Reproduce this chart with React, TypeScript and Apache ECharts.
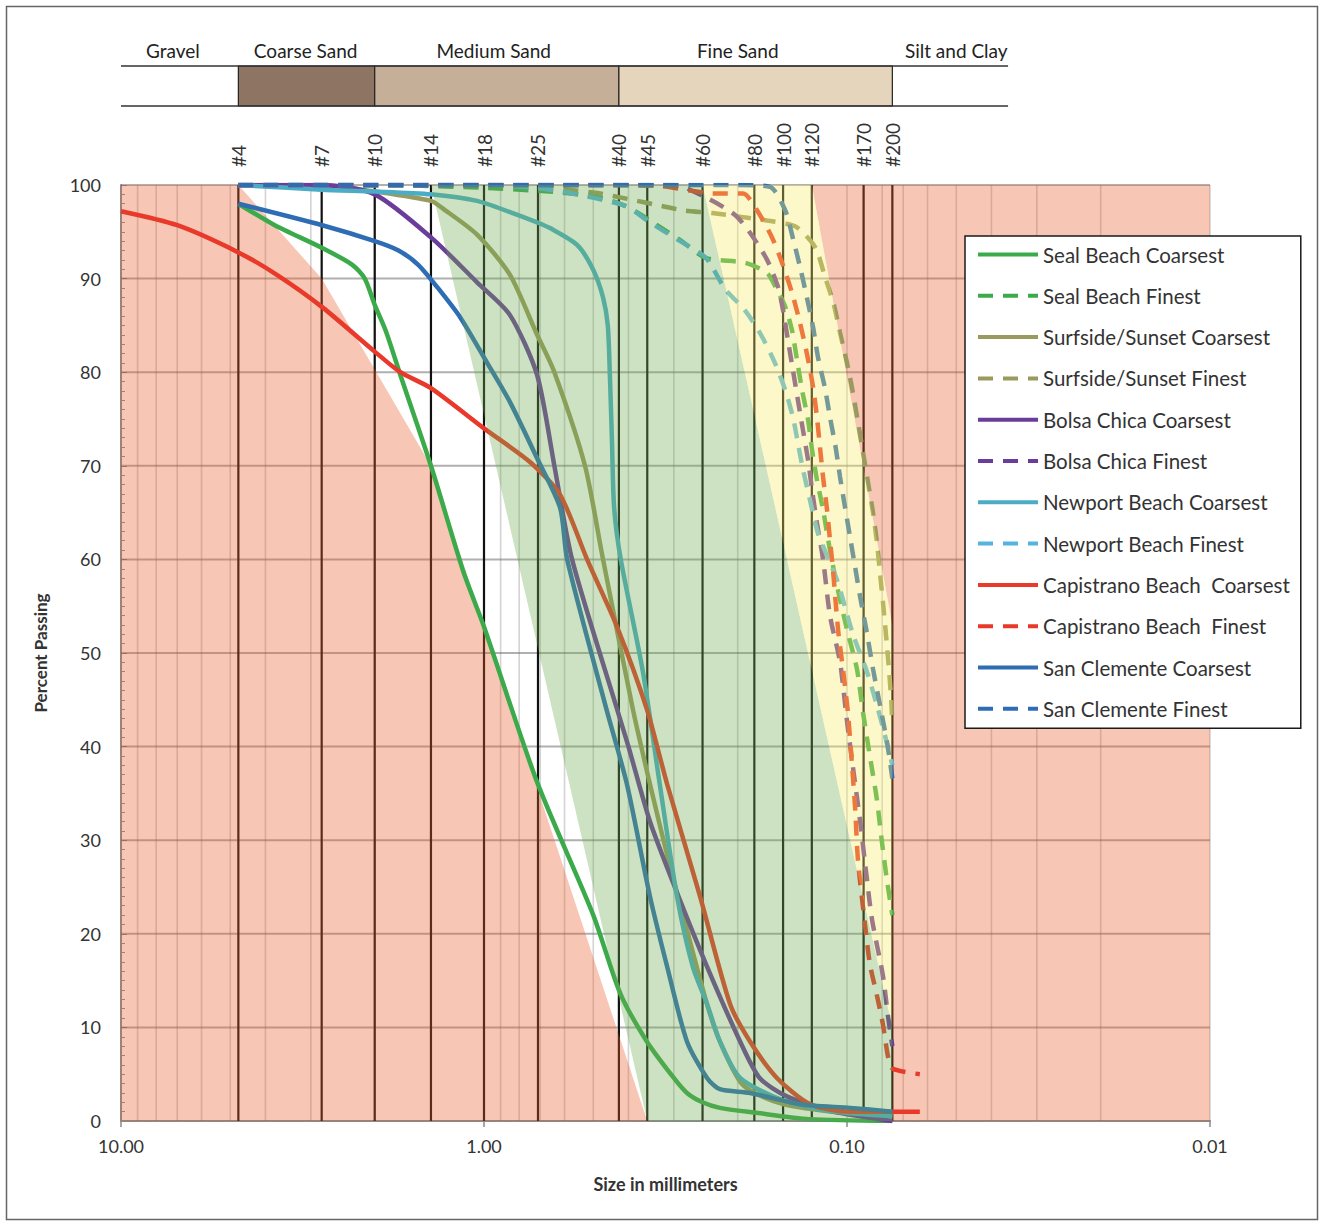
import React, { useEffect, useRef } from 'react';
import * as echarts from 'echarts';

const FONT = "Lato, 'Open Sans', sans-serif";

// ---- axis / reference data ----
const SIEVE_LABELS = ['#4', '#7', '#10', '#14', '#18', '#25', '#40', '#45', '#60', '#80', '#100', '#120', '#170', '#200'];
const SIEVE_SIZES = [4.75, 2.8, 2.0, 1.4, 1.0, 0.71, 0.425, 0.355, 0.25, 0.18, 0.15, 0.125, 0.09, 0.075];
const MINOR_GRID_SIZES = [9, 8, 7, 6, 5, 4, 3, 2, 1, 0.9, 0.8, 0.7, 0.6, 0.5, 0.4, 0.3, 0.2, 0.1, 0.09, 0.08, 0.07, 0.06, 0.05, 0.04, 0.03, 0.02, 0.01];
const Y_GRID = [10, 20, 30, 40, 50, 60, 70, 80, 90, 100];

const BAND_NAMES = ['Gravel', 'Coarse Sand', 'Medium Sand', 'Fine Sand', 'Silt and Clay'];
const BAND_EDGES = [10, 4.75, 2.0, 0.425, 0.075, 0.036];
const BAND_LABEL_AT = [7.2, 3.1, 0.94, 0.2, 0.05];

// envelope zones [size mm, percent]
const SALMON_LEFT = [[10, 100], [4.75, 100], [2.8, 90], [1.4, 70], [0.355, 0], [10, 0]];
const SALMON_RIGHT = [[0.125, 100], [0.01, 100], [0.01, 0], [0.075, 0], [0.075, 53]];
const GREEN_ZONE = [[1.4, 100], [0.25, 100], [0.075, 10], [0.075, 0], [0.355, 0]];
const YELLOW_ZONE = [[0.25, 100], [0.125, 100], [0.075, 53], [0.075, 10]];

// ---- gradation curves [size mm, percent passing] ----
const SEAL_COARSE = [[4.75, 98], [3.77, 95.7], [2.8, 93.3], [2.31, 91.5], [2.13, 90], [2.0, 87.2], [1.86, 84.3], [1.7, 79.7], [1.4, 70], [1.14, 58.7], [1.0, 52.8], [0.714, 36.2], [0.5, 22], [0.422, 13.7], [0.356, 8.5], [0.3, 4.6], [0.276, 3.0], [0.25, 2.0], [0.224, 1.4], [0.18, 0.9], [0.127, 0.2], [0.075, 0]];
const SEAL_FINE = [[4.75, 100], [2.0, 100], [1.0, 99.7], [0.66, 99.3], [0.5, 98.8], [0.41, 97.8], [0.349, 96.2], [0.288, 94.1], [0.2445, 92.2], [0.191, 91.7], [0.166, 90.6], [0.156, 88.8], [0.148, 87], [0.1418, 84.5], [0.1373, 81.3], [0.133, 78.1], [0.128, 74.9], [0.1248, 71.7], [0.121, 68.5], [0.1164, 65.3], [0.112, 61.5], [0.107, 57.5], [0.1, 52.5], [0.0939, 48.3], [0.0903, 43.6], [0.0865, 39], [0.0827, 34.3], [0.08, 29.6], [0.0776, 25.7], [0.075, 22]];
const SURF_COARSE = [[4.75, 100], [2.8, 100], [2.0, 99.3], [1.4, 98.3], [1.3, 97.5], [1.045, 94.7], [0.848, 90.4], [0.714, 84], [0.64, 80], [0.527, 70], [0.47, 60], [0.389, 44], [0.349, 36], [0.311, 28], [0.276, 20.4], [0.243, 12.5], [0.224, 8.5], [0.193, 3.8], [0.15, 1.8], [0.1, 0.8], [0.075, 0.5]];
const SURF_FINE = [[4.75, 100], [0.9, 100], [0.5, 99.2], [0.389, 98.4], [0.338, 97.9], [0.283, 97.3], [0.2354, 97], [0.166, 96.2], [0.139, 95.6], [0.1264, 94.1], [0.121, 93], [0.115, 90.2], [0.109, 87.4], [0.1045, 84.2], [0.1, 81], [0.0963, 77.8], [0.0932, 74.6], [0.0903, 71.4], [0.0875, 68.2], [0.0848, 65], [0.0827, 61.8], [0.0811, 58.5], [0.0795, 55.2], [0.0771, 49.5], [0.0756, 45.2], [0.075, 42.4]];
const BOLSA_COARSE = [[4.75, 100], [2.8, 100], [2.0, 99], [1.39, 94.3], [1.045, 89.6], [0.848, 86.1], [0.714, 79.7], [0.64, 70], [0.572, 60], [0.43, 44], [0.4, 40], [0.349, 32], [0.294, 24.4], [0.243, 16.5], [0.197, 8.5], [0.174, 4.6], [0.146, 2.6], [0.109, 1.0], [0.075, 0]];
const BOLSA_FINE = [[4.75, 100], [0.3, 100], [0.243, 98.6], [0.2035, 96.8], [0.185, 94.9], [0.166, 92], [0.1549, 89.1], [0.15, 86.6], [0.1454, 83.4], [0.1409, 80.2], [0.1365, 77], [0.1322, 73.8], [0.128, 70.6], [0.1248, 67.4], [0.121, 63.9], [0.1164, 60], [0.1114, 54], [0.1045, 49], [0.1, 42.7], [0.0963, 37.8], [0.092, 32], [0.0881, 25.8], [0.0853, 21.5], [0.0796, 15.5], [0.0771, 11.2], [0.075, 8]];
const NEWPORT_COARSE = [[4.75, 100], [2.8, 99.5], [2.0, 99.3], [1.4, 99], [1.045, 98.3], [0.848, 97.1], [0.714, 96], [0.658, 95.4], [0.554, 93.6], [0.501, 91], [0.47, 88], [0.456, 85], [0.45, 79.7], [0.444, 72.5], [0.438, 65.5], [0.42, 60], [0.365, 48], [0.328, 36], [0.294, 24], [0.266, 16.5], [0.243, 12.5], [0.224, 8.5], [0.197, 4.6], [0.15, 2.2], [0.109, 1.0], [0.075, 0.5]];
const NEWPORT_FINE = [[4.75, 100], [1.0, 100], [0.66, 99.5], [0.41, 97.8], [0.349, 96], [0.288, 94], [0.2445, 92.2], [0.2168, 88.9], [0.191, 86.6], [0.1726, 84], [0.158, 81], [0.148, 78.1], [0.1409, 75.2], [0.1365, 72.4], [0.1322, 69.6], [0.1264, 66.3], [0.1202, 62.8], [0.107, 58], [0.1026, 55.7], [0.0963, 52], [0.0881, 48], [0.0827, 44.4], [0.0786, 41.2], [0.075, 38]];
const CAP_COARSE = [[10, 97.2], [7.0, 95.7], [4.75, 92.8], [3.72, 90.4], [2.78, 86.9], [2.0, 82.2], [1.7, 80], [1.4, 78.3], [1.0, 74], [0.747, 70.4], [0.617, 66.9], [0.52, 60], [0.43, 52.8], [0.356, 44], [0.313, 36], [0.254, 24], [0.21, 12.5], [0.185, 8.5], [0.156, 4.6], [0.1265, 1.8], [0.098, 1.0], [0.075, 1.0], [0.063, 1.0]];
const CAP_FINE = [[4.75, 100], [0.479, 100], [0.3275, 99.9], [0.2706, 99.4], [0.2354, 99.1], [0.1934, 99.1], [0.177, 97.3], [0.1609, 94.4], [0.151, 91.7], [0.1418, 88.5], [0.1348, 85.3], [0.129, 82], [0.124, 78.4], [0.121, 75.2], [0.1187, 72], [0.1164, 68.8], [0.1135, 65.3], [0.1114, 62.1], [0.1093, 58.9], [0.1075, 55.5], [0.1055, 52], [0.1026, 48.3], [0.0994, 43.6], [0.0969, 38.1], [0.095, 33.5], [0.0932, 27.7], [0.0892, 21], [0.0865, 16.8], [0.0827, 13.4], [0.0796, 10.3], [0.0771, 6.9], [0.075, 5.6], [0.063, 5]];
const SANC_COARSE = [[4.75, 98], [2.79, 95.7], [2.0, 94], [1.72, 93], [1.52, 91.5], [1.34, 89], [1.16, 85.8], [0.98, 81], [0.848, 76.8], [0.714, 70.8], [0.617, 65.5], [0.59, 60], [0.46, 44], [0.404, 36], [0.349, 24], [0.313, 16.5], [0.276, 8.5], [0.243, 4.6], [0.224, 3.4], [0.185, 3.0], [0.135, 1.8], [0.098, 1.4], [0.075, 1.0]];
const SANC_FINE = [[4.75, 100], [0.2, 100], [0.163, 99.8], [0.148, 97.3], [0.1409, 94.3], [0.1348, 91.3], [0.129, 88], [0.124, 84.8], [0.1202, 81.6], [0.115, 78.3], [0.1114, 75.2], [0.1075, 72], [0.1045, 68.8], [0.1013, 65.6], [0.0981, 62.4], [0.095, 59.2], [0.092, 56], [0.0881, 52.1], [0.0848, 48.3], [0.0811, 44.4], [0.0776, 40.5], [0.075, 36.6]];

const SERIES_DEF = [
  { name: 'Seal Beach Coarsest', data: SEAL_COARSE, color: '#3BAA4A', dashed: false },
  { name: 'Seal Beach Finest', data: SEAL_FINE, color: '#3BAA4A', dashed: true },
  { name: 'Surfside/Sunset Coarsest', data: SURF_COARSE, color: '#9A9A5E', dashed: false },
  { name: 'Surfside/Sunset Finest', data: SURF_FINE, color: '#9A9A5E', dashed: true },
  { name: 'Bolsa Chica Coarsest', data: BOLSA_COARSE, color: '#6A3D9A', dashed: false },
  { name: 'Bolsa Chica Finest', data: BOLSA_FINE, color: '#6A3D9A', dashed: true },
  { name: 'Newport Beach Coarsest', data: NEWPORT_COARSE, color: '#4BACC6', dashed: false },
  { name: 'Newport Beach Finest', data: NEWPORT_FINE, color: '#55B4DE', dashed: true },
  { name: 'Capistrano Beach  Coarsest', data: CAP_COARSE, color: '#E8392A', dashed: false },
  { name: 'Capistrano Beach  Finest', data: CAP_FINE, color: '#E8392A', dashed: true },
  { name: 'San Clemente Coarsest', data: SANC_COARSE, color: '#2E6DB4', dashed: false },
  { name: 'San Clemente Finest', data: SANC_FINE, color: '#2E6DB4', dashed: true },
];

function zoneSeries(pts: number[][], fill: string, z: number) {
  return {
    type: 'custom',
    coordinateSystem: 'cartesian2d',
    z,
    silent: true,
    clip: true,
    data: [[1, 50]],
    renderItem: (_p: any, api: any) => ({
      type: 'polygon',
      shape: { points: pts.map((p) => api.coord(p)) },
      style: { fill },
    }),
  };
}

export default function App() {
  const ref = useRef<HTMLDivElement>(null);

  useEffect(() => {
    if (!ref.current) return;
    const chart = echarts.init(ref.current, null, { renderer: 'svg' });

    const lineSeries = SERIES_DEF.map((s) => ({
      name: s.name,
      type: 'line',
      data: s.data,
      z: 5,
      smooth: 0.25,
      symbol: 'none',
      showSymbol: false,
      silent: true,
      color: s.color,
      lineStyle: { color: s.color, width: 4.5, type: s.dashed ? [15, 10] : 'solid' },
      emphasis: { disabled: true },
    }));

    const option: any = {
      animation: false,
      grid: { left: 121, top: 185, width: 1089, height: 936, show: true, backgroundColor: '#ffffff', borderWidth: 0, outerBoundsMode: 'none' },
      xAxis: {
        type: 'log',
        logBase: 10,
        min: 0.01,
        max: 10,
        splitNumber: 3,
        inverse: true,
        axisLine: { show: true, lineStyle: { color: '#8a8a8a', width: 2 } },
        axisTick: { show: true, length: 6, lineStyle: { color: '#8a8a8a', width: 1.5 } },
        axisLabel: { formatter: (v: number) => Number(v).toFixed(2), fontSize: 18, color: '#333', margin: 16, fontFamily: FONT },
        splitLine: { show: false },
        name: 'Size in millimeters',
        nameLocation: 'middle',
        nameGap: 54,
        nameTextStyle: { fontSize: 18, fontWeight: 'bold', color: '#333', fontFamily: FONT },
      },
      yAxis: {
        type: 'value',
        min: 0,
        max: 100,
        interval: 10,
        axisLine: { show: true, lineStyle: { color: '#8a8a8a', width: 2 } },
        axisTick: { show: true, inside: true, length: 6, lineStyle: { color: '#8a8a8a' } },
        minorTick: { show: true, splitNumber: 10, length: 4, lineStyle: { color: '#9a8a86', width: 1 } },
        axisLabel: { fontSize: 18, color: '#333', margin: 20, fontFamily: FONT },
        splitLine: { show: false },
        name: 'Percent Passing',
        nameLocation: 'middle',
        nameGap: 72,
        nameRotate: 90,
        nameTextStyle: { fontSize: 17, fontWeight: 'bold', color: '#333', fontFamily: FONT },
      },
      legend: {
        orient: 'vertical',
        left: 965,
        top: 236,
        z: 10,
        itemWidth: 60,
        itemHeight: 22,
        itemGap: 20.3,
        padding: [8, 11, 9, 11],
        backgroundColor: '#ffffff',
        borderColor: '#1a1a1a',
        borderWidth: 1.5,
        borderRadius: 0,
        selectedMode: false,
        itemStyle: { opacity: 0, borderWidth: 0 },
        lineStyle: { width: 4 },
        textStyle: { fontSize: 20.5, color: '#333', fontFamily: FONT },
        data: SERIES_DEF.map((s) => s.name),
      },
      series: [
        {
          type: 'custom',
          z: 2,
          silent: true,
          data: MINOR_GRID_SIZES.map((s) => [s, 0]),
          renderItem: (_p: any, api: any) => {
            const s = api.value(0);
            const a = api.coord([s, 0]);
            const b = api.coord([s, 100]);
            return { type: 'line', shape: { x1: a[0], y1: a[1], x2: b[0], y2: b[1] }, style: { stroke: 'rgba(110,110,110,0.3)', lineWidth: 1.6 } };
          },
        },
        {
          type: 'custom',
          z: 2,
          silent: true,
          data: Y_GRID.map((y) => [1, y]),
          renderItem: (_p: any, api: any) => {
            const y = api.value(1);
            const a = api.coord([10, y]);
            const b = api.coord([0.01, y]);
            return { type: 'line', shape: { x1: a[0], y1: a[1], x2: b[0], y2: b[1] }, style: { stroke: 'rgba(100,95,95,0.5)', lineWidth: 2 } };
          },
        },
        {
          type: 'custom',
          z: 3,
          silent: true,
          data: SIEVE_SIZES.map((s) => [s, 0]),
          renderItem: (_p: any, api: any) => {
            const s = api.value(0);
            const a = api.coord([s, 0]);
            const b = api.coord([s, 100]);
            return { type: 'line', shape: { x1: a[0], y1: a[1], x2: b[0], y2: b[1] }, style: { stroke: '#111', lineWidth: 2.2 } };
          },
        },
        zoneSeries(SALMON_LEFT, 'rgba(232,92,42,0.35)', 4),
        zoneSeries(SALMON_RIGHT, 'rgba(232,92,42,0.35)', 4),
        ...lineSeries,
        zoneSeries(GREEN_ZONE, 'rgba(110,172,80,0.35)', 6),
        zoneSeries(YELLOW_ZONE, 'rgba(250,236,100,0.35)', 6),
      ],
    };

    chart.setOption(option);

    const px = (v: number) => chart.convertToPixel({ xAxisIndex: 0 }, v) as number;
    const graphic: any[] = [];
    graphic.push({ type: 'rect', shape: { x: 6.5, y: 6.5, width: 1311, height: 1213 }, style: { fill: 'none', stroke: '#666', lineWidth: 1.5 }, silent: true });

    const bx0 = px(BAND_EDGES[0]);
    const bx1 = px(BAND_EDGES[BAND_EDGES.length - 1]);
    const bandFills = ['none', '#8E7462', '#C5AF99', '#E6D5BD', 'none'];
    for (let i = 0; i < BAND_NAMES.length; i++) {
      const l = px(BAND_EDGES[i]);
      const r = px(BAND_EDGES[i + 1]);
      if (bandFills[i] !== 'none') {
        graphic.push({ type: 'rect', shape: { x: l, y: 66, width: r - l, height: 40 }, style: { fill: bandFills[i], stroke: '#222', lineWidth: 1.2 }, silent: true });
      }
      graphic.push({ type: 'text', x: px(BAND_LABEL_AT[i]), y: 50, silent: true, style: { text: BAND_NAMES[i], fontSize: 19, fontFamily: FONT, fill: '#222', textAlign: 'center', textVerticalAlign: 'middle' } });
    }
    graphic.push({ type: 'line', shape: { x1: bx0, y1: 66, x2: bx1, y2: 66 }, style: { stroke: '#333', lineWidth: 1.5 }, silent: true });
    graphic.push({ type: 'line', shape: { x1: bx0, y1: 106, x2: bx1, y2: 106 }, style: { stroke: '#333', lineWidth: 1.5 }, silent: true });

    SIEVE_SIZES.forEach((s, i) => {
      graphic.push({
        type: 'text',
        x: px(s),
        y: 167,
        rotation: Math.PI / 2,
        silent: true,
        style: { text: SIEVE_LABELS[i], fontSize: 19, fontFamily: FONT, fill: '#333', textAlign: 'left', textVerticalAlign: 'middle' },
      });
    });

    chart.setOption({ graphic });

    return () => chart.dispose();
  }, []);

  return <div ref={ref} style={{ position: 'absolute', left: 0, top: 0, width: 1320, height: 1222 }} />;
}
